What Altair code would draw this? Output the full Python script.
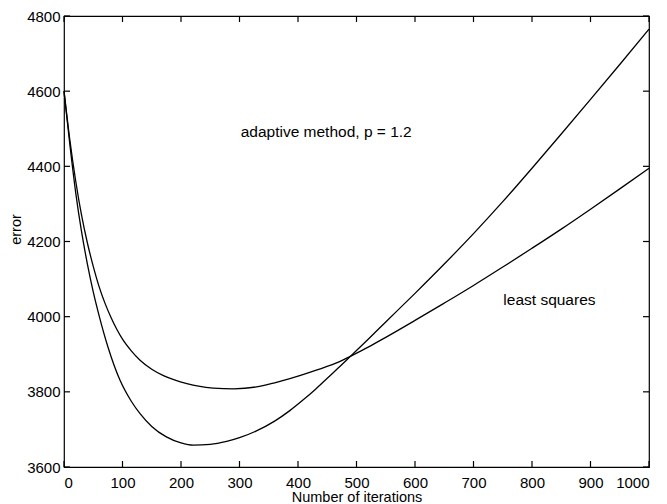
import altair as alt
import pandas as pd

# --- data ---
iters_a = [0, 10, 20, 30, 40, 50, 60, 75, 96, 115, 130, 150, 175, 200, 221, 250, 278, 300, 329, 360, 386,
           410, 430, 450, 472, 490, 520, 550, 600, 650, 700, 750, 800, 850, 900, 950, 1000]
err_a = [4600, 4458, 4330, 4226, 4140, 4066, 4003, 3920, 3830, 3775, 3742, 3708, 3680, 3664, 3658, 3660, 3668, 3678, 3696, 3722, 3750,
         3780, 3807, 3836, 3868, 3895, 3940, 3986, 4062, 4140, 4221, 4306, 4395, 4486, 4578, 4671, 4765]

iters_b = [0, 10, 20, 30, 40, 50, 60, 70, 80, 90, 100, 115, 130, 150, 170, 190, 210, 230, 255, 290, 329, 360, 386,
           430, 472, 490, 520, 550, 600, 650, 700, 750, 800, 850, 900, 950, 1000]
err_b = [4600, 4470, 4361, 4270, 4196, 4134, 4080, 4036, 3999, 3967, 3940, 3909, 3884, 3860, 3843, 3831, 3822, 3815, 3810, 3808, 3813, 3824, 3835,
         3857, 3881, 3895, 3919, 3945, 3990, 4036, 4083, 4132, 4182, 4233, 4286, 4340, 4395]

x_ticks = [0, 100, 200, 300, 400, 500, 600, 700, 800, 900, 1000]
y_ticks = [3600, 3800, 4000, 4200, 4400, 4600, 4800]
x_range = [0, 1000]
y_range = [3600, 4800]

label_text = ["adaptive method, p = 1.2", "least squares"]
label_x = [302, 751]
label_y = [4492, 4044]

FONT = "Liberation Sans"
W, H = 585, 451
TICK_PX = 6
tick_dx = TICK_PX * (x_range[1] - x_range[0]) / W
tick_dy = TICK_PX * (y_range[1] - y_range[0]) / H

curves = pd.DataFrame({
    "x": iters_a + iters_b,
    "y": err_a + err_b,
    "s": ["a"] * len(iters_a) + ["b"] * len(iters_b),
})

xs = alt.Scale(domain=x_range, nice=False, zero=False)
ys = alt.Scale(domain=y_range, nice=False, zero=False)

ax_x = alt.Axis(
    values=x_ticks, format="d", title="Number of iterations", ticks=False, domain=False, grid=False,
    labelPadding=8, labelFontSize=15, labelFont=FONT, labelColor="black",
    titleFont=FONT, titleFontSize=14.5, titleFontWeight="normal", titleColor="black",
    titleBaseline="alphabetic", titleY=34.5)
ax_y = alt.Axis(
    values=y_ticks, format="d", title="error", ticks=False, domain=False, grid=False,
    labelPadding=4, labelFontSize=15, labelFont=FONT, labelColor="black",
    titleFont=FONT, titleFontSize=14.5, titleFontWeight="normal", titleColor="black",
    titleBaseline="alphabetic", titleX=-44, titleY=213)

lines = alt.Chart(curves).mark_line(color="black", strokeWidth=1.3, interpolate="monotone").encode(
    x=alt.X("x:Q", scale=xs, axis=ax_x),
    y=alt.Y("y:Q", scale=ys, axis=ax_y),
    detail="s:N",
)

# inward tick marks on all four sides of the frame
xt_rows = []
for v in x_ticks:
    xt_rows.append({"x": v, "y": y_range[0], "y2": y_range[0] + tick_dy})
    xt_rows.append({"x": v, "y": y_range[1], "y2": y_range[1] - tick_dy})
yt_rows = []
for v in y_ticks:
    yt_rows.append({"y": v, "x": x_range[0], "x2": x_range[0] + tick_dx})
    yt_rows.append({"y": v, "x": x_range[1], "x2": x_range[1] - tick_dx})

xticks = alt.Chart(pd.DataFrame(xt_rows)).mark_rule(color="black", strokeWidth=1.2).encode(
    x=alt.X("x:Q", scale=xs, axis=ax_x),
    y=alt.Y("y:Q", scale=ys, axis=ax_y),
    y2="y2:Q")
yticks = alt.Chart(pd.DataFrame(yt_rows)).mark_rule(color="black", strokeWidth=1.2).encode(
    y=alt.Y("y:Q", scale=ys, axis=ax_y),
    x=alt.X("x:Q", scale=xs, axis=ax_x),
    x2="x2:Q")

labels = alt.Chart(pd.DataFrame({"t": label_text, "x": label_x, "y": label_y})).mark_text(
    align="left", baseline="middle", font=FONT, fontSize=15.5, color="black").encode(
    x=alt.X("x:Q", scale=xs, axis=ax_x), y=alt.Y("y:Q", scale=ys, axis=ax_y), text="t:N")

chart = alt.layer(lines, xticks, yticks, labels).properties(
    width=W, height=H,
    autosize=alt.AutoSizeParams(type="none"),
    padding={"left": 56, "top": 8, "right": 10, "bottom": 37},
    background="white",
).configure_view(stroke="black", strokeWidth=1.2)

chart.save("out.html", embed_options={"renderer": "svg", "actions": False})
